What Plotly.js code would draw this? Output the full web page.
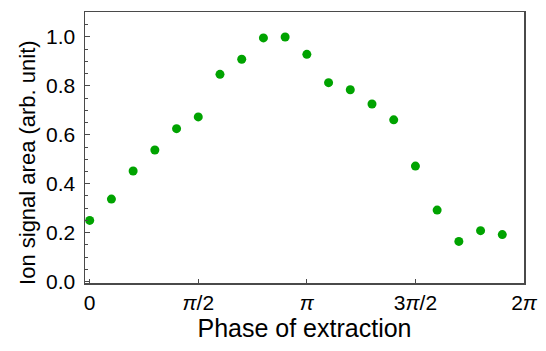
<!DOCTYPE html>
<html>
<head>
<meta charset="utf-8">
<script src="https://cdn.plot.ly/plotly-3.0.1.min.js"></script>
<style>html,body{margin:0;padding:0;background:#fff;}#chart{width:546px;height:351px;}</style>
</head>
<body>
<div id="chart"></div>
<script>
// phase in units of pi
const phaseOverPi = [0, 0.1, 0.2, 0.3, 0.4, 0.5, 0.6, 0.7, 0.8, 0.9, 1.0, 1.1, 1.2, 1.3, 1.4, 1.5, 1.6, 1.7, 1.8, 1.9];
const signal = [0.25, 0.337, 0.452, 0.538, 0.625, 0.673, 0.847, 0.909, 0.996, 1.0, 0.929, 0.813, 0.784, 0.726, 0.661, 0.472, 0.292, 0.164, 0.208, 0.192];
const xTickVals = [0, 0.5, 1, 1.5, 2];
const xTickText = ['0', '<i>π</i>/2', '<i>π</i>', '3<i>π</i>/2', '2<i>π</i>'];
const yTickVals = [0, 0.2, 0.4, 0.6, 0.8, 1.0];
const yTickText = ['0.0', '0.2', '0.4', '0.6', '0.8', '1.0'];
const xTitle = 'Phase of extraction';
const yTitle = 'Ion signal area (arb. unit)';

const x = phaseOverPi.map(v => v * Math.PI);
const font = 'Liberation Sans, Arial, sans-serif';
const axisColor = '#4a4a4a';

Plotly.newPlot('chart', [{
  x: x, y: signal, type: 'scatter', mode: 'markers',
  marker: {color: '#00a300', size: 9}
}], {
  width: 546, height: 351,
  margin: {l: 85, r: 22, t: 12, b: 68},
  paper_bgcolor: '#fff', plot_bgcolor: '#fff',
  showlegend: false,
  font: {family: font, color: '#000'},
  xaxis: {
    range: [-0.068, 2 * Math.PI],
    tickvals: xTickVals.map(v => v * Math.PI), ticktext: xTickText,
    ticks: 'inside', ticklen: 4, tickwidth: 1, tickcolor: axisColor,
    showline: true, linecolor: axisColor, linewidth: 1.5, mirror: true,
    showgrid: false, zeroline: false,
    tickfont: {size: 21, family: font},
    title: {text: xTitle, font: {size: 25, family: font}, standoff: 6}
  },
  yaxis: {
    range: [-0.006, 1.102],
    tickvals: yTickVals, ticktext: yTickText,
    ticks: 'inside', ticklen: 5, tickwidth: 1, tickcolor: axisColor,
    minor: {dtick: 0.05, tick0: 0, ticks: 'inside', ticklen: 3, tickcolor: axisColor, showgrid: false},
    showline: true, linecolor: axisColor, linewidth: 1.5, mirror: true,
    showgrid: false, zeroline: false,
    tickfont: {size: 21, family: font},
    ticklabelstandoff: 4
  },
  annotations: [{
    text: yTitle, textangle: -90, showarrow: false,
    xref: 'paper', yref: 'paper', x: 0, y: 0.443,
    xanchor: 'center', yanchor: 'middle', xshift: -57,
    font: {size: 22, family: font, color: '#000'}
  }]
}, {staticPlot: true, displayModeBar: false});
</script>
</body>
</html>
